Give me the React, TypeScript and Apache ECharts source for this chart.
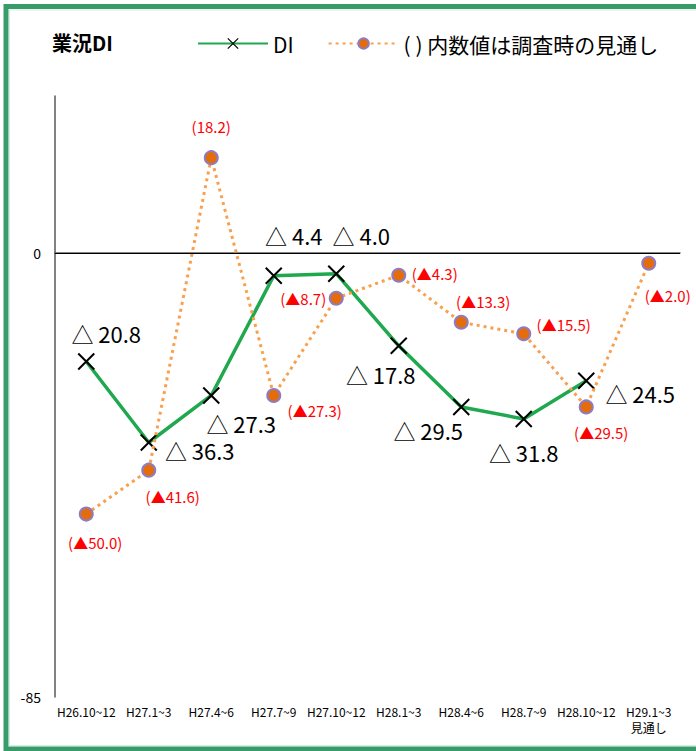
import React, { useEffect, useRef } from "react";
import * as echarts from "echarts";

// Quarter labels (last one is the outlook quarter)
const categories = [
  "H26.10~12",
  "H27.1~3",
  "H27.4~6",
  "H27.7~9",
  "H27.10~12",
  "H28.1~3",
  "H28.4~6",
  "H28.7~9",
  "H28.10~12",
  "H29.1~3\n見通し",
];

// Business-condition DI (actual)
const diValues = [-20.8, -36.3, -27.3, -4.4, -4.0, -17.8, -29.5, -31.8, -24.5];

// Outlook figures given at the time of each survey
const outlookValues = [-50.0, -41.6, 18.2, -27.3, -8.7, -4.3, -13.3, -15.5, -29.5, -2.0];

// Label offsets from each point's centre [dx, dy]
const diLabelOffsets = [
  [20, -28],
  [51, 8],
  [30, 28],
  [20, -41],
  [25, -39],
  [-18, 28],
  [-33, 23],
  [0, 33],
  [54, 12],
];
const outlookLabelOffsets = [
  [9, 28],
  [24, 26],
  [0, -31],
  [41, 15],
  [-33, 0],
  [36, -2],
  [22, -21],
  [40, -9],
  [15, 26],
  [19, 32],
];

const Y_MIN = -85;
const Y_MAX = 30;
const FONT = "'Noto Sans CJK JP', 'Noto Sans', sans-serif";

const DI_NAME = "DI";
const OUTLOOK_NAME = "( ) 内数値は調査時の見通し";

const diLabel = (v: number) => "△ " + Math.abs(v).toFixed(1);
const outlookLabel = (v: number) =>
  v < 0 ? "(▲" + Math.abs(v).toFixed(1) + ")" : "(" + v.toFixed(1) + ")";

export default function App() {
  const ref = useRef<HTMLDivElement>(null);

  useEffect(() => {
    if (!ref.current) return;
    const chart = echarts.init(ref.current, undefined, { renderer: "svg" });

    const option = {
      animation: false,
      backgroundColor: "#ffffff",
      textStyle: { fontFamily: FONT },
      title: {
        text: "業況DI",
        left: 47,
        top: 27,
        textStyle: { fontSize: 20, fontWeight: "bold", color: "#000", fontFamily: FONT },
      },
      legend: {
        left: 192,
        top: 28,
        itemWidth: 70,
        itemHeight: 13,
        itemGap: 34,
        textStyle: { fontSize: 21, color: "#000", fontFamily: FONT },
        data: [
          { name: DI_NAME, itemStyle: { borderWidth: 1.2 } },
          { name: OUTLOOK_NAME },
        ],
      },
      grid: { left: 55, right: 16, top: 96, bottom: 54 },
      xAxis: {
        type: "category",
        data: categories,
        boundaryGap: true,
        axisLine: { lineStyle: { color: "#595959", width: 1.5 } },
        axisTick: { show: false },
        axisLabel: { interval: 0, fontSize: 12, color: "#000", margin: 6, lineHeight: 16 },
      },
      yAxis: {
        type: "value",
        min: Y_MIN,
        max: Y_MAX,
        interval: 5,
        splitLine: { show: false },
        axisTick: { show: false },
        axisLine: { show: true, lineStyle: { color: "#595959", width: 1.5 } },
        axisLabel: {
          fontSize: 14,
          color: "#000",
          margin: 14,
          formatter: (v: number) => (v === 0 || v === Y_MIN ? String(v) : ""),
        },
      },
      graphic: [
        {
          type: "rect",
          shape: { x: 6, y: 6.5, width: 700, height: 742.5 },
          style: { fill: "none", stroke: "#389b6a", lineWidth: 5 },
          silent: true,
          z: 100,
        },
        {
          type: "rect",
          shape: { x: 9.5, y: 10, width: 700, height: 735.5 },
          style: { fill: "none", stroke: "#d4efe0", lineWidth: 1 },
          silent: true,
          z: 100,
        },
      ],
      series: [
        {
          name: DI_NAME,
          type: "line",
          data: diValues.map((v, i) => ({
            value: v,
            label: { offset: diLabelOffsets[i] },
          })),
          lineStyle: { color: "#1fa84e", width: 3.5 },
          symbol: "path://M0,0L10,10M10,0L0,10",
          symbolSize: 16,
          itemStyle: { color: "#000", borderColor: "#000", borderWidth: 2 },
          label: {
            show: true,
            position: "inside",
            align: "center",
            verticalAlign: "middle",
            fontSize: 22,
            color: "#000",
            fontFamily: FONT,
            formatter: (p: any) => diLabel(p.value),
          },
          markLine: {
            silent: true,
            symbol: "none",
            label: { show: false },
            lineStyle: { color: "#000", width: 1.2, type: "solid" },
            data: [{ yAxis: 0 }],
          },
          z: 3,
        },
        {
          name: OUTLOOK_NAME,
          type: "line",
          data: outlookValues.map((v, i) => ({
            value: v,
            label: { offset: outlookLabelOffsets[i] },
          })),
          lineStyle: { color: "#f9a04e", width: 3, type: [3, 4] },
          symbol: "circle",
          symbolSize: 13,
          itemStyle: { color: "#e46c0a", borderColor: "#8e7cc3", borderWidth: 2 },
          label: {
            show: true,
            position: "inside",
            align: "center",
            verticalAlign: "middle",
            fontSize: 15,
            color: "#ff0000",
            fontFamily: FONT,
            formatter: (p: any) => outlookLabel(p.value),
          },
          z: 4,
        },
      ],
    };

    chart.setOption(option as any);
    return () => chart.dispose();
  }, []);

  return (
    <div
      ref={ref}
      style={{ position: "fixed", left: 0, top: 0, width: 696, height: 751, background: "#fff" }}
    />
  );
}
